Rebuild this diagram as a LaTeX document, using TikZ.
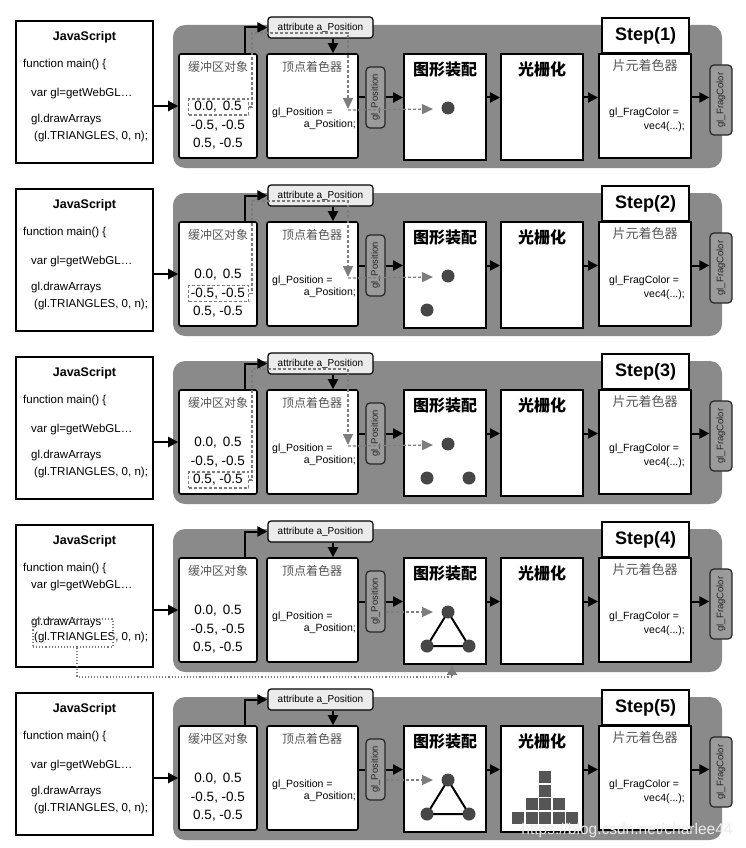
\documentclass[tikz,border=0pt]{standalone}
\usepackage{fontspec}
\setmainfont{Liberation Sans}
\newfontfamily\cjk{Noto Sans CJK SC}
\usetikzlibrary{arrows.meta}
\definecolor{panelgray}{RGB}{138,138,138}
\definecolor{tabgray}{RGB}{155,155,155}
\definecolor{dashgray}{RGB}{125,125,125}
\definecolor{dotgray}{RGB}{70,70,70}
\definecolor{sqgray}{RGB}{85,85,85}
\definecolor{cjkgray}{RGB}{85,85,85}
\tikzset{
  box/.style={draw, fill=white, line width=1.6pt, inner sep=0pt},
  jsbox/.style={box, line width=1.4pt, minimum width=137pt, minimum height=142pt},
  databox/.style={box, rounded corners=2pt, minimum height=104pt},
  stagebox/.style={box, line width=1.9pt, minimum width=82pt, minimum height=106pt},
  stepbox/.style={box, line width=1.6pt, minimum width=87pt, minimum height=35pt, font=\fontsize{18}{20}\selectfont\bfseries},
  attrbox/.style={draw, fill=black!8, line width=1.2pt, rounded corners=3pt, minimum width=105pt, minimum height=21pt, inner sep=0pt, font=\fontsize{10}{12}\selectfont},
  tab/.style={draw=black!85, fill=tabgray, line width=1.2pt, rounded corners=4pt, inner sep=0pt},
  tabtext/.style={rotate=90, font=\fontsize{9.5}{11}\selectfont, text=black!85},
  arr/.style={line width=2pt, -{Triangle[length=10pt,width=10pt]}},
  plain/.style={line width=2pt},
  garr/.style={draw=dashgray, line width=1.3pt, dash pattern=on 3pt off 2pt, -{Triangle[length=11pt,width=10pt,fill=dashgray]}},
  selbox/.style={draw=dashgray, line width=1.2pt, dash pattern=on 3pt off 2pt, minimum width=60pt, minimum height=16pt, inner sep=0pt},
  dotbox/.style={draw=dashgray, line width=1.1pt, dotted, minimum width=80pt, minimum height=28pt, inner sep=0pt},
  dotline/.style={draw=dashgray, line width=1.1pt, dotted, -{Triangle[length=10pt,width=10pt,fill=dashgray]}},
  pt/.style={circle, fill=dotgray, minimum size=13pt, inner sep=0pt},
  jstext/.style={anchor=west, font=\fontsize{11.5}{13}\selectfont, inner sep=0pt},
  cjktitle/.style={font=\cjk\fontsize{12}{14}\selectfont, text=cjkgray},
  cjkbold/.style={font=\cjk\bfseries\fontsize{16}{18}\selectfont},
  val/.style={font=\fontsize{13.5}{15}\selectfont, inner sep=0pt},
  code/.style={font=\fontsize{10.5}{12}\selectfont, inner sep=0pt}
}
\begin{document}
\begin{tikzpicture}[x=1pt,y=-1pt]
\useasboundingbox (0,0) rectangle (745,848);
\fill[white] (0,0) rectangle (745,848);
\foreach \r in {1,...,5}{
  \pgfmathsetmacro\off{168*(\r-1)}
  \ifnum\r=4
    \def\vary{82}\def\drawy{119}\def\triy{134}
  \else
    \def\vary{94}\def\drawy{120}\def\triy{137}
  \fi
  \begin{scope}[shift={(0,\off)}]
    % JavaScript box
    \node[jsbox] (js\r) at (84.5,92) {};
    \node[font=\fontsize{12.5}{14}\selectfont\bfseries] (jst\r) at (84.5,37) {JavaScript};
    \node[jstext] (jf\r) at (23,65) {function main() \{};
    \node[jstext] (jv\r) at (31,\vary) {var gl=getWebGL…};
    \node[jstext] (jd\r) at (31,\drawy) {gl.drawArrays};
    \node[jstext] (jt\r) at (34,\triy) {(gl.TRIANGLES, 0, n);};
    % panel
    \fill[panelgray, rounded corners=12pt] (173,25) rectangle (722,168);
    % boxes
    \node[databox, minimum width=78pt] (buf\r) at (218,106) {};
    \node[databox, minimum width=91pt] (vs\r) at (312.5,106) {};
    \node[attrbox] (attr\r) at (320.5,27.5) {attribute a\_Position};
    \node[tab, minimum width=19pt, minimum height=61pt] (glp\r) at (375.5,97.5) {};
    \node[tabtext] (glpt\r) at (glp\r.center) {gl\_Position};
    \node[stagebox] (ga\r) at (445,107) {};
    \node[stagebox] (ras\r) at (542,107) {};
    \node[databox, line width=1.9pt, rounded corners=0pt, minimum width=92pt] (fs\r) at (645,106) {};
    \node[stepbox] (step\r) at (645.5,35.5) {Step(\r)};
    \node[tab, minimum width=22pt, minimum height=70pt] (fc\r) at (721,100) {};
    \node[tabtext] (fct\r) at (fc\r.center) {gl\_FragColor};
    % texts
    \node[cjktitle] (buft\r) at (218,67) {缓冲区对象};
    \node[val] (v1\r) at (218,107) {0.0,\,\ 0.5};
    \node[val] (v2\r) at (218,125.5) {-0.5, -0.5};
    \node[val] (v3\r) at (218,144) {0.5, -0.5};
    \node[cjktitle] (vst\r) at (312,67) {顶点着色器};
    \node[code, anchor=west] (vc1\r) at (272,113) {gl\_Position =};
    \node[code, anchor=east] (vc2\r) at (356,125) {a\_Position;};
    \node[cjkbold] (gat\r) at (445,69) {图形装配};
    \node[cjkbold] (rat\r) at (542,69) {光栅化};
    \node[cjktitle, font=\cjk\fontsize{13}{15}\selectfont] (fst\r) at (645,66) {片元着色器};
    \node[code, anchor=west] (fc1\r) at (609,113) {gl\_FragColor =};
    \node[code, anchor=east] (fc2\r) at (685,127) {vec4(...);};
    % connectors
    \draw[arr] (js\r.east |- buf\r.west) -- (buf\r.west);
    \draw[arr] ([xshift=27pt]buf\r.north) |- (attr\r.west);
    \draw[arr] ([xshift=12.5pt]attr\r.south) -- ([xshift=12.5pt]attr\r.south |- vs\r.north);
    \draw[plain] (vs\r.east |- glp\r.west) -- (glp\r.west);
    \draw[arr] (glp\r.east) -- (glp\r.east -| ga\r.west);
    \draw[arr] (ga\r.east |- glp\r.east) -- (ras\r.west |- glp\r.east);
    \draw[arr] (ras\r.east |- glp\r.east) -- (fs\r.west |- glp\r.east);
    \draw[arr] (fs\r.east |- glp\r.east) -- (fc\r.west |- glp\r.east);
    % points
    \coordinate (pa\r) at (448,108);
    \coordinate (pb\r) at (427,142);
    \coordinate (pc\r) at (469,142);
    \coordinate (gt\r) at (433,109);
  \end{scope}
}
% ---- Step 1-3: data flow from buffer entries ----
\foreach \r in {1,2,3}{
  \pgfmathsetmacro\off{168*(\r-1)}
  \pgfmathsetmacro\dy{107+18.5*(\r-1)}
  \begin{scope}[shift={(0,\off)}]
    \node[selbox] (sel\r) at (218.5,\dy) {};
    \coordinate (vt\r) at (348,109);
    \draw[garr] (sel\r.east) -- (252,\dy) -- (252,33) -- (348,33) -- (vt\r);
    \draw[garr] (348,110) -- (gt\r);
  \end{scope}
}
\node[pt] (d1) at (pa1) {};
\node[pt] (d2a) at (pa2) {};
\node[pt] (d2b) at (pb2) {};
\node[pt] (d3a) at (pa3) {};
\node[pt] (d3b) at (pb3) {};
\node[pt] (d3c) at (pc3) {};
% ---- Step 4 and 5: triangles ----
\foreach \r in {4,5}{
  \draw[garr] (glp\r.east |- pa\r) -- ([xshift=-15pt]pa\r);
  \draw[line width=2pt] (pa\r) -- (pb\r) -- (pc\r) -- cycle;
  \node[pt] (ta\r) at (pa\r) {};
  \node[pt] (tb\r) at (pb\r) {};
  \node[pt] (tc\r) at (pc\r) {};
}
% Step 4: dotted link from gl.TRIANGLES to primitive assembly
\node[dotbox] (tri4) at (73,633) {};
\coordinate (corner4) at (452,677);
\draw[dotline] ([xshift=4pt]tri4.south) |- (corner4) -- ([xshift=7pt]ga4.south);
% Step 5: rasterized fragments
\foreach \c/\k in {0/0,1/0,2/0,3/0,4/0,1/1,2/1,3/1,2/2,2/3}{
  \fill[sqgray] ({512+13.6*\c},{672+140-13.6*\k}) rectangle ++(12,12);
}
% watermark
\node[font=\fontsize{15.5}{17}\selectfont, text=white!92!black] (wm) at (627,830) {https://blog.csdn.net/charlee44};
\end{tikzpicture}
\end{document}
